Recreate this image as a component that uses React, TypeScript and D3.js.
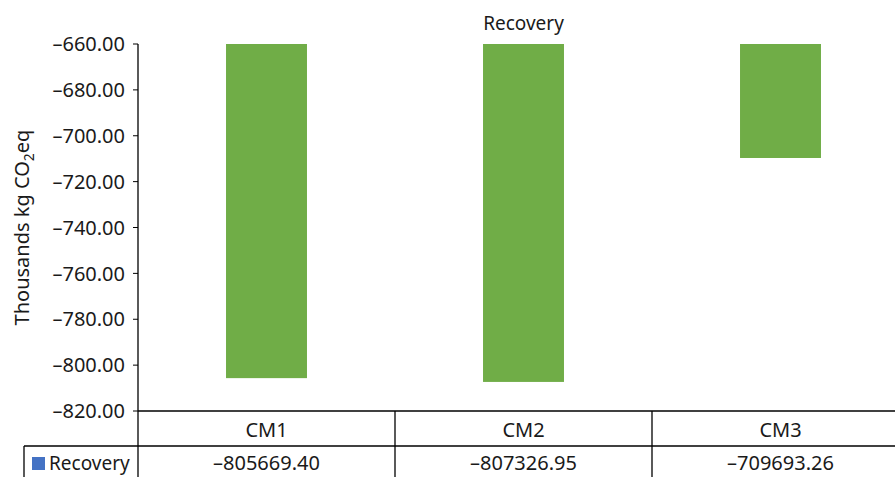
import React from "react";
import * as d3 from "d3";

const categories = ["CM1", "CM2", "CM3"];
const seriesName = "Recovery";
const values = [-805669.4, -807326.95, -709693.26];
const tableLabels = ["–805669.40", "–807326.95", "–709693.26"];
const yTicks = [-820, -800, -780, -760, -740, -720, -700, -680, -660];

const W = 895;
const H = 477;
const axisX = 138;
const top = 44;
const axisBottom = 411;
const row1 = 446;
const bandW = 257;

export default function App() {
  const y = d3.scaleLinear().domain([-820, -660]).range([axisBottom, top]);
  const x = d3
    .scaleBand<string>()
    .domain(categories)
    .range([axisX, axisX + bandW * categories.length])
    .paddingInner(0)
    .paddingOuter(0);
  const barW = bandW * 0.315;
  const font = "'Noto Sans', 'Open Sans', sans-serif";
  const fmt = (v: number) => (v < 0 ? "–" : "") + Math.abs(v).toFixed(2);
  const txt = "#1a1a1a";

  return (
    <svg
      width={W}
      height={H}
      style={{ position: "absolute", left: 0, top: 0, background: "#fff" }}
      fontFamily={font}
    >
      <text x={x("CM2")! + bandW / 2} y={30} textAnchor="middle" fontSize={19} fill={txt}>
        {seriesName}
      </text>
      {categories.map((c, i) => {
        const v = values[i] / 1000;
        const y0 = y(-660);
        const y1 = y(Math.max(v, -820));
        return (
          <rect
            key={c}
            x={x(c)! + bandW / 2 - barW / 2}
            y={y0}
            width={barW}
            height={y1 - y0}
            fill="#70AD47"
          />
        );
      })}
      {yTicks.map((t) => (
        <g key={t}>
          <line x1={axisX - 5} x2={axisX} y1={y(t)} y2={y(t)} stroke="#000" strokeWidth={1} />
          <text x={125} y={y(t)} dy="0.36em" textAnchor="end" fontSize={20} fill={txt}>
            {fmt(t)}
          </text>
        </g>
      ))}
      <text
        transform={`translate(29, ${(top + axisBottom) / 2}) rotate(-90)`}
        textAnchor="middle"
        fontSize={20}
        fill={txt}
      >
        Thousands kg CO<tspan fontSize={14} dy={5}>2</tspan>
        <tspan dy={-5}>eq</tspan>
      </text>
      {/* axis and table grid */}
      <line x1={axisX} x2={axisX} y1={top} y2={H} stroke="#000" strokeWidth={1.3} />
      <line x1={axisX} x2={W} y1={axisBottom} y2={axisBottom} stroke="#000" strokeWidth={1.3} />
      <line x1={24} x2={W} y1={row1} y2={row1} stroke="#000" strokeWidth={1.3} />
      <line x1={24} x2={24} y1={row1} y2={H} stroke="#000" strokeWidth={1.3} />
      {categories.slice(1).map((c) => (
        <line key={c} x1={x(c)!} x2={x(c)!} y1={axisBottom} y2={H} stroke="#000" strokeWidth={1.3} />
      ))}
      {categories.map((c, i) => (
        <g key={c}>
          <text x={x(c)! + bandW / 2} y={437} textAnchor="middle" fontSize={20} fill={txt}>
            {c}
          </text>
          <text x={x(c)! + bandW / 2} y={470} textAnchor="middle" fontSize={20} fill={txt}>
            {tableLabels[i]}
          </text>
        </g>
      ))}
      <rect x={32} y={457} width={13} height={13} fill="#4472C4" />
      <text x={49} y={470} fontSize={19} fill={txt}>
        {seriesName}
      </text>
    </svg>
  );
}
